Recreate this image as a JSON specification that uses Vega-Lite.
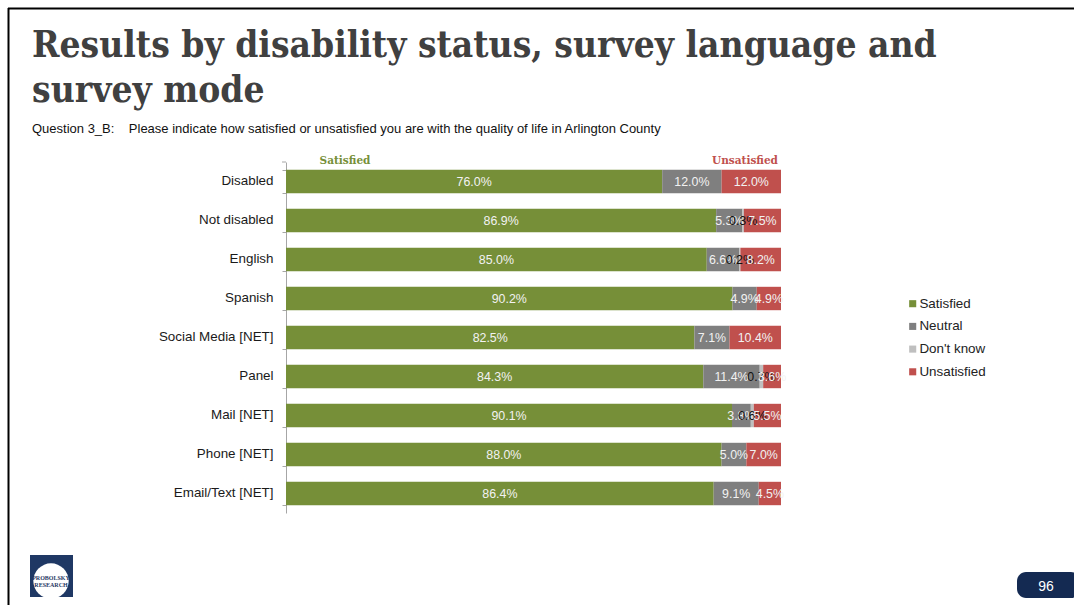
{
  "$schema": "https://vega.github.io/schema/vega-lite/v6.json",
  "width": 495,
  "height": 351,
  "autosize": {"type": "none"},
  "padding": {"left": 286, "top": 162, "right": 293, "bottom": 92},
  "background": "white",
  "config": {"view": {"stroke": null}, "font": "Liberation Sans"},
  "title": {
    "text": ["Results by disability status, survey language and", "survey mode"],
    "subtitle": "Question 3_B:\u00a0\u00a0\u00a0\u00a0Please indicate how satisfied or unsatisfied you are with the quality of life in Arlington County",
    "anchor": "start",
    "frame": "group",
    "dx": -254,
    "offset": -129,
    "font": "DejaVu Serif Condensed",
    "fontWeight": "bold",
    "fontSize": 36.8,
    "lineHeight": 45,
    "color": "#404040",
    "subtitleFont": "Liberation Sans",
    "subtitleFontSize": 13,
    "subtitleColor": "#111111",
    "subtitlePadding": 13
  },
  "data": {
    "values": [
      {"group": "Disabled", "response": "Satisfied", "order": 1, "share": 76.0},
      {"group": "Disabled", "response": "Neutral", "order": 2, "share": 12.0},
      {"group": "Disabled", "response": "Unsatisfied", "order": 4, "share": 12.0},
      {"group": "Not disabled", "response": "Satisfied", "order": 1, "share": 86.9},
      {"group": "Not disabled", "response": "Neutral", "order": 2, "share": 5.3},
      {"group": "Not disabled", "response": "Don't know", "order": 3, "share": 0.3},
      {"group": "Not disabled", "response": "Unsatisfied", "order": 4, "share": 7.5},
      {"group": "English", "response": "Satisfied", "order": 1, "share": 85.0},
      {"group": "English", "response": "Neutral", "order": 2, "share": 6.6},
      {"group": "English", "response": "Don't know", "order": 3, "share": 0.2},
      {"group": "English", "response": "Unsatisfied", "order": 4, "share": 8.2},
      {"group": "Spanish", "response": "Satisfied", "order": 1, "share": 90.2},
      {"group": "Spanish", "response": "Neutral", "order": 2, "share": 4.9},
      {"group": "Spanish", "response": "Unsatisfied", "order": 4, "share": 4.9},
      {"group": "Social Media [NET]", "response": "Satisfied", "order": 1, "share": 82.5},
      {"group": "Social Media [NET]", "response": "Neutral", "order": 2, "share": 7.1},
      {"group": "Social Media [NET]", "response": "Unsatisfied", "order": 4, "share": 10.4},
      {"group": "Panel", "response": "Satisfied", "order": 1, "share": 84.3},
      {"group": "Panel", "response": "Neutral", "order": 2, "share": 11.4},
      {"group": "Panel", "response": "Don't know", "order": 3, "share": 0.7},
      {"group": "Panel", "response": "Unsatisfied", "order": 4, "share": 3.6},
      {"group": "Mail [NET]", "response": "Satisfied", "order": 1, "share": 90.1},
      {"group": "Mail [NET]", "response": "Neutral", "order": 2, "share": 3.8},
      {"group": "Mail [NET]", "response": "Don't know", "order": 3, "share": 0.6},
      {"group": "Mail [NET]", "response": "Unsatisfied", "order": 4, "share": 5.5},
      {"group": "Phone [NET]", "response": "Satisfied", "order": 1, "share": 88.0},
      {"group": "Phone [NET]", "response": "Neutral", "order": 2, "share": 5.0},
      {"group": "Phone [NET]", "response": "Unsatisfied", "order": 4, "share": 7.0},
      {"group": "Email/Text [NET]", "response": "Satisfied", "order": 1, "share": 86.4},
      {"group": "Email/Text [NET]", "response": "Neutral", "order": 2, "share": 9.1},
      {"group": "Email/Text [NET]", "response": "Unsatisfied", "order": 4, "share": 4.5}
    ]
  },
  "transform": [{"calculate": "format(datum.share, '.1f') + '%'", "as": "label"}],
  "resolve": {"scale": {"x": "independent", "y": "independent"}},
  "layer": [
    {
      "encoding": {
        "y": {
          "field": "group",
          "type": "nominal",
          "sort": ["Disabled", "Not disabled", "English", "Spanish", "Social Media [NET]", "Panel", "Mail [NET]", "Phone [NET]", "Email/Text [NET]"],
          "scale": {"paddingInner": 0.4, "paddingOuter": 0.2},
          "title": null,
          "axis": {
            "domainColor": "#a6a6a6",
            "tickColor": "#a6a6a6",
            "tickBand": "extent",
            "tickOffset": 7.8,
            "tickSize": 4,
            "labelPadding": 9,
            "labelOffset": -1,
            "labelFont": "Liberation Sans",
            "labelFontSize": 13.4,
            "labelColor": "#1a1a1a"
          }
        },
        "x": {
          "field": "share",
          "type": "quantitative",
          "stack": "zero",
          "scale": {"domain": [0, 100], "nice": false},
          "axis": null
        },
        "order": {"field": "order", "type": "quantitative"}
      },
      "layer": [
        {
          "mark": {"type": "bar"},
          "encoding": {
            "color": {
              "field": "response",
              "type": "nominal",
              "scale": {
                "domain": ["Satisfied", "Neutral", "Don't know", "Unsatisfied"],
                "range": ["#768f38", "#7f7f7f", "#bfbfbf", "#c0504d"]
              },
              "legend": {
                "title": null,
                "orient": "none",
                "legendX": 620,
                "legendY": 135,
                "symbolType": "square",
                "symbolSize": 50,
                "symbolStrokeWidth": 0,
                "labelFont": "Liberation Sans",
                "labelFontSize": 13.4,
                "labelColor": "#222222",
                "labelOffset": 0,
                "rowPadding": 7.7
              }
            }
          }
        },
        {
          "mark": {"type": "text", "fontSize": 12.4, "font": "Liberation Sans"},
          "encoding": {
            "x": {"field": "share", "type": "quantitative", "stack": "zero", "bandPosition": 0.5, "scale": {"domain": [0, 100], "nice": false}, "axis": null},
            "text": {"field": "label", "type": "nominal"},
            "color": {"condition": {"test": "datum.response === \"Don't know\"", "value": "#111111"}, "value": "#f2f2f2"},
            "order": {"field": "order", "type": "quantitative"}
          }
        }
      ]
    },
    {
      "description": "Page furniture: frame, column headings, logo and page number, placed on a 1074 by 605 page scale",
      "data": {"values": [{}]},
      "encoding": {
        "x": {"scale": {"domain": [0, 1074], "range": [-286, 788]}, "axis": null},
        "y": {"scale": {"domain": [0, 605], "range": [-162, 443]}, "axis": null}
      },
      "layer": [
        {
          "mark": {"type": "rule", "color": "#000000", "strokeWidth": 2},
          "encoding": {
            "x": {"datum": 8, "type": "quantitative", "scale": {"domain": [0, 1074], "range": [-286, 788]}, "axis": null},
            "x2": {"datum": 1074},
            "y": {"datum": 8.5, "type": "quantitative", "scale": {"domain": [0, 605], "range": [-162, 443]}, "axis": null}
          }
        },
        {
          "mark": {"type": "rule", "color": "#000000", "strokeWidth": 2},
          "encoding": {
            "x": {"datum": 8.5, "type": "quantitative", "scale": {"domain": [0, 1074], "range": [-286, 788]}, "axis": null},
            "y": {"datum": 8, "type": "quantitative", "scale": {"domain": [0, 605], "range": [-162, 443]}, "axis": null},
            "y2": {"datum": 605}
          }
        },
        {
          "mark": {"type": "rule", "color": "#a6a6a6", "strokeWidth": 1},
          "encoding": {
            "x": {"datum": 282, "type": "quantitative", "scale": {"domain": [0, 1074], "range": [-286, 788]}, "axis": null},
            "x2": {"datum": 286},
            "y": {"datum": 162, "type": "quantitative", "scale": {"domain": [0, 605], "range": [-162, 443]}, "axis": null}
          }
        },
        {
          "mark": {"type": "text", "text": "Satisfied", "font": "DejaVu Serif", "fontWeight": "bold", "fontSize": 10.5, "color": "#768f38"},
          "encoding": {
            "x": {"datum": 345, "type": "quantitative", "scale": {"domain": [0, 1074], "range": [-286, 788]}, "axis": null},
            "y": {"datum": 161, "type": "quantitative", "scale": {"domain": [0, 605], "range": [-162, 443]}, "axis": null}
          }
        },
        {
          "mark": {"type": "text", "text": "Unsatisfied", "font": "DejaVu Serif", "fontWeight": "bold", "fontSize": 10.5, "color": "#c0504d"},
          "encoding": {
            "x": {"datum": 745, "type": "quantitative", "scale": {"domain": [0, 1074], "range": [-286, 788]}, "axis": null},
            "y": {"datum": 161, "type": "quantitative", "scale": {"domain": [0, 605], "range": [-162, 443]}, "axis": null}
          }
        },
        {
          "mark": {"type": "rect", "color": "#1f3864"},
          "encoding": {
            "x": {"datum": 30, "type": "quantitative", "scale": {"domain": [0, 1074], "range": [-286, 788]}, "axis": null},
            "x2": {"datum": 73},
            "y": {"datum": 555, "type": "quantitative", "scale": {"domain": [0, 605], "range": [-162, 443]}, "axis": null},
            "y2": {"datum": 597}
          }
        },
        {
          "mark": {"type": "point", "shape": "circle", "filled": true, "color": "#1f3864", "opacity": 1, "size": 1385},
          "encoding": {
            "x": {"datum": 53, "type": "quantitative", "scale": {"domain": [0, 1074], "range": [-286, 788]}, "axis": null},
            "y": {"datum": 577, "type": "quantitative", "scale": {"domain": [0, 605], "range": [-162, 443]}, "axis": null}
          }
        },
        {
          "mark": {"type": "point", "shape": "circle", "filled": true, "color": "#ffffff", "opacity": 1, "size": 1250},
          "encoding": {
            "x": {"datum": 51, "type": "quantitative", "scale": {"domain": [0, 1074], "range": [-286, 788]}, "axis": null},
            "y": {"datum": 581, "type": "quantitative", "scale": {"domain": [0, 605], "range": [-162, 443]}, "axis": null}
          }
        },
        {
          "mark": {"type": "text", "text": ["PROBOLSKY", "RESEARCH"], "font": "Liberation Serif", "fontWeight": "bold", "fontSize": 6, "lineHeight": 7, "color": "#1f3864"},
          "encoding": {
            "x": {"datum": 51, "type": "quantitative", "scale": {"domain": [0, 1074], "range": [-286, 788]}, "axis": null},
            "y": {"datum": 578, "type": "quantitative", "scale": {"domain": [0, 605], "range": [-162, 443]}, "axis": null}
          }
        },
        {
          "mark": {"type": "rect", "color": "#142a52", "cornerRadius": 9},
          "encoding": {
            "x": {"datum": 1017, "type": "quantitative", "scale": {"domain": [0, 1074], "range": [-286, 788]}, "axis": null},
            "x2": {"datum": 1080},
            "y": {"datum": 572, "type": "quantitative", "scale": {"domain": [0, 605], "range": [-162, 443]}, "axis": null},
            "y2": {"datum": 598}
          }
        },
        {
          "mark": {"type": "text", "text": "96", "font": "Liberation Sans", "fontSize": 14, "color": "#ffffff"},
          "encoding": {
            "x": {"datum": 1046, "type": "quantitative", "scale": {"domain": [0, 1074], "range": [-286, 788]}, "axis": null},
            "y": {"datum": 587, "type": "quantitative", "scale": {"domain": [0, 605], "range": [-162, 443]}, "axis": null}
          }
        }
      ]
    }
  ]
}
